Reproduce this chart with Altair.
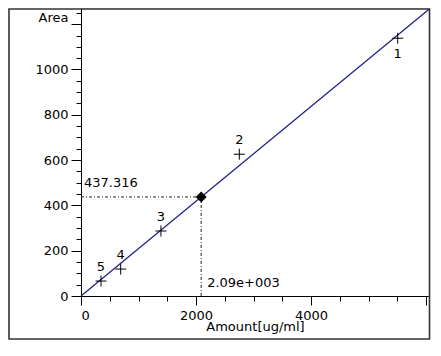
import altair as alt
import pandas as pd

# Calibration standards
point_ids = ["1", "2", "3", "4", "5"]
amounts = [5508, 2753, 1390, 690, 348]
areas = [1138, 626, 287, 119, 66]

# Calibration line
fit_x = [0, 6052]
fit_y = [0, 1266]

# Unknown sample
target_amount = 2090
target_area = 437.316
target_x_label = "2.09e+003"
target_y_label = "437.316"

x_max = 6052
y_max = 1271.5
FONT = "DejaVu Sans"

pts = pd.DataFrame({"id": point_ids, "amount": amounts, "area": areas})
fit = pd.DataFrame({"amount": fit_x, "area": fit_y})
tgt = pd.DataFrame({"amount": [target_amount], "area": [target_area],
                    "zero": [0], "xl": [target_x_label], "yl": [target_y_label]})

xscale = alt.Scale(domain=[0, x_max], nice=False, zero=False)
yscale = alt.Scale(domain=[0, y_max], nice=False, zero=False)

common = dict(
    labelFont=FONT, labelFontSize=13, labelColor="black",
    titleFont=FONT, titleFontSize=13, titleColor="black", titleFontWeight="normal",
    domainColor="black", domainWidth=1, tickColor="black", tickWidth=1,
    labelOverlap=False, grid=False, format="d",
)

xaxis = alt.Axis(
    values=list(range(0, 6001, 500)),
    tickSize={"condition": {"test": "datum.value % 2000 === 0", "value": 9}, "value": 5},
    labelExpr="datum.value % 2000 === 0 && datum.value < 6000 ? datum.label : ''",
    labelPadding=4,
    title="Amount[ug/ml]", titleX=174, titleY=30, titleAlign="center",
    titleBaseline="middle", **common,
)
yaxis = alt.Axis(
    values=list(range(0, 1251, 50)),
    tickSize={"condition": {"test": "datum.value % 200 === 0", "value": 10}, "value": 5},
    labelExpr="datum.value % 200 === 0 && datum.value <= 1000 ? datum.label : ''",
    labelPadding=3,
    title="Area", titleAngle=0, titleX=-13, titleY=9, titleAlign="right",
    titleBaseline="middle", **common,
)

X = alt.X("amount:Q", scale=xscale, axis=xaxis)
Y = alt.Y("area:Q", scale=yscale, axis=yaxis)

frame = alt.Chart(pd.DataFrame({"a": [0]})).mark_rect(
    filled=False, stroke="#333", strokeWidth=1.6
).encode(x=alt.value(-72), x2=alt.value(348.5), y=alt.value(1), y2=alt.value(331))

line = alt.Chart(fit).mark_line(color="#1c1c8a", strokeWidth=1.2).encode(x=X, y=Y)

hrule = alt.Chart(tgt).mark_rule(color="#222", strokeWidth=1, strokeDash=[3, 2, 1, 2]).encode(
    x=alt.X("zero:Q", scale=xscale, axis=xaxis), x2="amount:Q", y=alt.Y("area:Q", scale=yscale, axis=yaxis))
vrule = alt.Chart(tgt).mark_rule(color="#222", strokeWidth=1, strokeDash=[3, 2, 1, 2]).encode(
    x=X, y=alt.Y("zero:Q", scale=yscale, axis=yaxis), y2="area:Q")

crosses = alt.Chart(pts).mark_point(
    shape="M-1,0L1,0M0,-1L0,1", size=121, filled=False, color="black", strokeWidth=1, opacity=1
).encode(x=X, y=Y)

labels_above = alt.Chart(pts).transform_filter("datum.id !== '1'").mark_text(
    font=FONT, fontSize=13, color="black", dy=-14, baseline="middle"
).encode(x=X, y=Y, text="id:N")
labels_below = alt.Chart(pts).transform_filter("datum.id === '1'").mark_text(
    font=FONT, fontSize=13, color="black", dy=16, baseline="middle"
).encode(x=X, y=Y, text="id:N")

diamond = alt.Chart(tgt).mark_point(shape="diamond", size=121, filled=True, color="black", opacity=1).encode(x=X, y=Y)

ylab = alt.Chart(tgt).mark_text(font=FONT, fontSize=13, color="black", align="left",
                                baseline="middle", dx=3, dy=-14).encode(
    x=alt.X("zero:Q", scale=xscale, axis=xaxis), y=Y, text="yl:N")
xlab = alt.Chart(tgt).mark_text(font=FONT, fontSize=13, color="black", align="left",
                                baseline="middle", dx=6, dy=-13).encode(
    x=X, y=alt.Y("zero:Q", scale=yscale, axis=yaxis), text="xl:N")

chart = alt.layer(frame, hrule, vrule, line, crosses, labels_above, labels_below, diamond, ylab, xlab).properties(
    width=348, height=288,
    autosize=alt.AutoSizeParams(type="none"),
    padding={"left": 73, "top": 0, "right": 4, "bottom": 52},
).configure_view(stroke=None).configure(background="white")

chart.save("out.html", embed_options={"renderer": "svg", "actions": False})
